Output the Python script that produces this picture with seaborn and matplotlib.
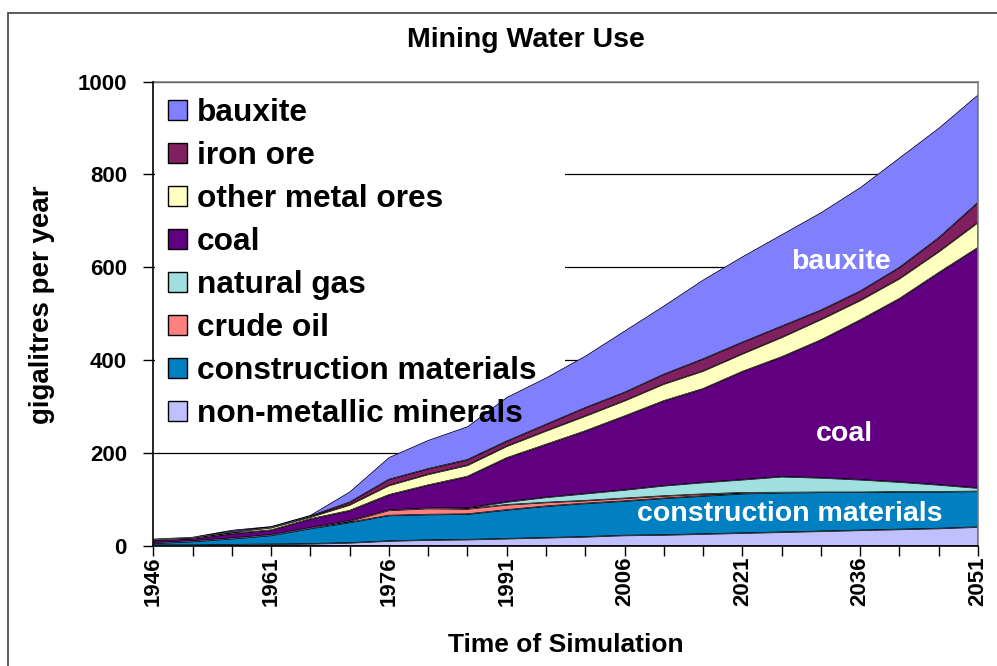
import matplotlib
matplotlib.use("Agg")
import matplotlib.pyplot as plt
from matplotlib.patches import Patch, Rectangle
import numpy as np
import pandas as pd
import seaborn as sns
import seaborn.objects as so

# ---------------- data (gigalitres per year, individual stacked series) -------------
years = list(range(1946, 2052, 5))
non_metallic = [1, 1, 2, 3, 4, 6, 10, 12, 13, 15, 17, 19, 22, 23, 25, 27, 29, 31, 33, 35, 37, 40]
construction = [4, 8, 13, 19, 33, 44, 55, 55, 55, 62, 68, 72, 74, 79, 82, 85, 85, 84, 82, 81, 79, 77]
crude_oil = [0.5, 0.5, 0.5, 1, 1, 3, 11, 13, 11, 11, 8, 6, 6, 5, 4, 2, 0.5, 0, 0, 0, 0, 0]
natural_gas = [0.5, 0.5, 0.5, 0.5, 0.5, 0.5, 0.5, 0.5, 2, 6, 11, 15, 18, 22, 25, 28, 34, 31, 27, 21, 15, 7]
coal = [6, 5, 10, 10, 19, 22, 33, 50, 68, 95, 114, 135, 159, 183, 202, 233, 258, 297, 344, 395, 457, 518]
other_metal = [1, 2, 3, 5, 4, 12, 20, 23, 24, 25, 29, 32, 33, 36, 38, 38, 42, 44, 42, 43, 45, 54]
iron_ore = [0.5, 1, 1, 1, 2, 6, 13, 12, 12, 11, 14, 18, 18, 21, 26, 25, 24, 20, 20, 24, 30, 43]
bauxite = [1.5, 1, 4, 2.5, 2.5, 23, 48, 62, 72, 95, 101, 112, 133, 148, 171, 185, 198, 211, 224, 237, 237, 233]

series_names = ["non-metallic minerals", "construction materials", "crude oil", "natural gas",
                "coal", "other metal ores", "iron ore", "bauxite"]
series_values = [non_metallic, construction, crude_oil, natural_gas, coal, other_metal, iron_ore, bauxite]
series_colors = ["#C0C0FF", "#0080C0", "#FF8080", "#A0E0E0", "#600080", "#FFFFC0", "#802060", "#8080FF"]

y_ticks = [0, 200, 400, 600, 800, 1000]
x_tick_labels = [1946, 1961, 1976, 1991, 2006, 2021, 2036, 2051]

# ---------------- style -------------
sns.set_theme(style="white")
plt.rcParams["font.family"] = ["Liberation Sans", "DejaVu Sans"]
plt.rcParams["font.weight"] = "bold"
plt.rcParams["axes.labelweight"] = "bold"
plt.rcParams["text.color"] = "black"
plt.rcParams["axes.labelcolor"] = "black"
plt.rcParams["xtick.color"] = "black"
plt.rcParams["ytick.color"] = "black"

rows = []
for i, yr in enumerate(years):
    for name, vals in zip(series_names, series_values):
        rows.append((yr, name, vals[i]))
df = pd.DataFrame(rows, columns=["year", "series", "value"])

W, H = 997, 666
fig = plt.figure(figsize=(W / 100, H / 100), dpi=100)
fig.patch.set_facecolor("white")
ax_l, ax_r, ax_t, ax_b = 153.3, 978.0, 81.5, 545.7
ax = fig.add_axes([ax_l / W, 1 - ax_b / H, (ax_r - ax_l) / W, (ax_b - ax_t) / H])

(
    so.Plot(df, x="year", y="value", color="series")
    .add(so.Area(alpha=1, edgecolor="black", edgewidth=0.5), so.Stack(), legend=False)
    .scale(color=so.Nominal(dict(zip(series_names, series_colors)), order=series_names))
    .on(ax)
    .plot()
)

ax.set_facecolor("white")
ax.set_xlim(1946, 2051)
ax.set_ylim(0, 1000)
ax.set_axisbelow(True)
for v in y_ticks[1:]:
    ax.axhline(v, color="black", lw=0.9, zorder=0.5)

# white legend area hides the gridlines (areas are drawn above it)
ax.add_patch(Rectangle((0.002, 0.245), 0.497, 0.744, transform=ax.transAxes,
                       facecolor="white", edgecolor="none", zorder=0.6))

ax.set_yticks(y_ticks)
ax.set_yticklabels([str(v) for v in y_ticks], fontsize=16, fontweight="bold", color="black")
ax.set_xticks(years, minor=True)
ax.set_xticks(x_tick_labels)
ax.set_xticklabels([str(v) for v in x_tick_labels], rotation=90, fontsize=16, fontweight="bold",
                   color="black")
ax.tick_params(axis="both", which="both", direction="out", length=7, width=1, color="black",
               left=True, bottom=True, top=False, right=False)
ax.tick_params(axis="y", pad=12)
ax.tick_params(axis="x", which="major", pad=1)
ax.tick_params(axis="x", which="minor", labelbottom=False)
ax.set_xlabel("")
ax.set_ylabel("")
for side in ["left", "bottom"]:
    ax.spines[side].set_color("black")
    ax.spines[side].set_linewidth(1.2)
    ax.spines[side].set_zorder(6)
for side in ["top", "right"]:
    ax.spines[side].set_color("#808080")
    ax.spines[side].set_linewidth(1.2)
    ax.spines[side].set_visible(True)
ax.grid(False)

# labels inside areas
ax.text(2033.5, 612, "bauxite", color="white", fontsize=20.5, fontweight="bold", ha="center", va="center", zorder=7)
ax.text(2034.0, 241, "coal", color="white", fontsize=20.5, fontweight="bold", ha="center", va="center", zorder=7)
ax.text(2027.0, 69, "construction materials", color="white", fontsize=20.5, fontweight="bold",
        ha="center", va="center", zorder=7)

# legend (top-most series first), no background so areas stay visible behind the text
handles = [Patch(facecolor=c, edgecolor="black", linewidth=1) for c in series_colors[::-1]]
leg = ax.legend(handles, series_names[::-1], loc="upper left",
                bbox_to_anchor=(0.006, 0.3, 0.493, 0.685), mode="expand",
                frameon=False,
                prop={"family": ["Liberation Sans", "DejaVu Sans"], "weight": "bold", "size": 22.8},
                handlelength=0.6, handleheight=0.6, handletextpad=0.33, labelspacing=0.41,
                borderpad=0.3, borderaxespad=0)
leg.set_zorder(8)
for t in leg.get_texts():
    t.set_color("black")

# title and axis labels
fig.text(526 / W, 1 - 40 / H, "Mining Water Use", ha="center", va="center", fontsize=20.5,
         fontweight="bold", color="black")
fig.text(42 / W, 1 - 305 / H, "gigalitres per year", ha="center", va="center", rotation=90,
         fontsize=20, fontweight="bold", color="black")
fig.text(566 / W, 1 - 645 / H, "Time of Simulation", ha="center", va="center", fontsize=19,
         fontweight="bold", color="black")

# outer chart border
fig.patches.append(Rectangle((8.3 / W, -0.05), 1.2, 1 - 13.3 / H + 0.05, transform=fig.transFigure,
                             fill=False, edgecolor="#404040", linewidth=1.2))

fig.savefig("out.png", dpi=100, facecolor="white")
